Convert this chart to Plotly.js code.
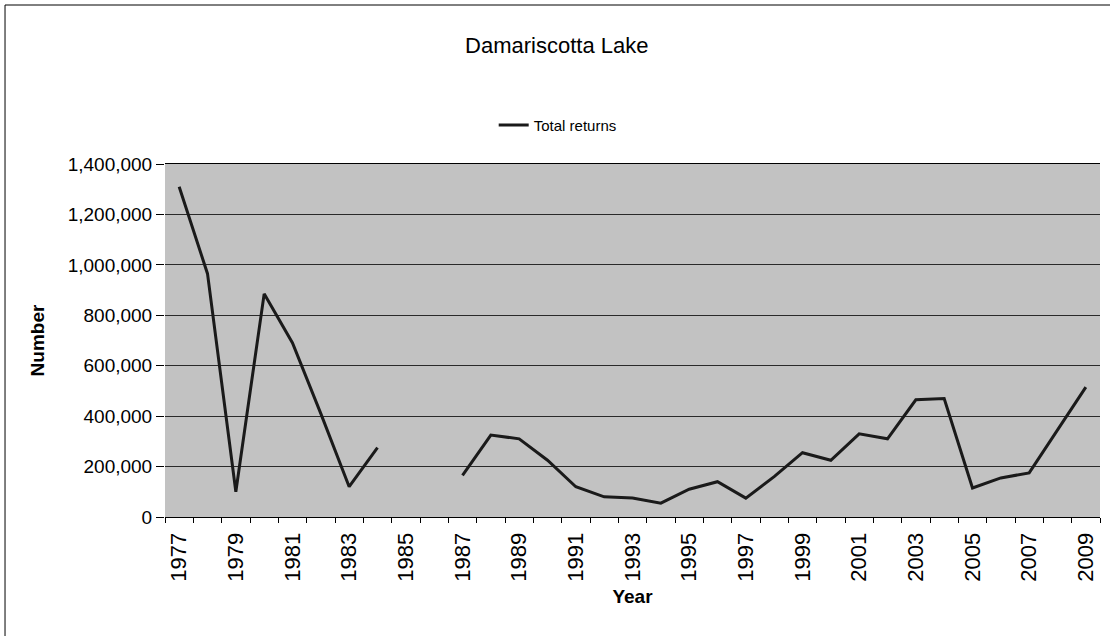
<!DOCTYPE html>
<html>
<head>
<meta charset="utf-8">
<script src="https://cdn.plot.ly/plotly-3.0.1.min.js"></script>
<style>html,body{margin:0;padding:0;background:#fff;}#chart{width:1110px;height:636px;}</style>
</head>
<body>
<div id="chart"></div>
<script>
const years = [1977,1978,1979,1980,1981,1982,1983,1984,1985,1986,1987,1988,1989,1990,1991,1992,1993,1994,1995,1996,1997,1998,1999,2000,2001,2002,2003,2004,2005,2006,2007,2008,2009];
const totalReturns = [1310000,965000,100000,885000,690000,410000,120000,275000,null,null,165000,325000,310000,225000,120000,80000,75000,55000,110000,140000,75000,160000,255000,225000,330000,310000,465000,470000,115000,155000,175000,345000,515000];
const tickYears = [1977,1979,1981,1983,1985,1987,1989,1991,1993,1995,1997,1999,2001,2003,2005,2007,2009];
const tickLabels = tickYears.map(String);
const yTicks = [0,200000,400000,600000,800000,1000000,1200000,1400000];
const yLabels = ['0','200,000','400,000','600,000','800,000','1,000,000','1,200,000','1,400,000'];

const FONT = 'Liberation Sans, Arial, sans-serif';

const trace = {
  x: years, y: totalReturns, type: 'scatter', mode: 'lines',
  name: 'Total returns', connectgaps: false,
  line: {color: '#1a1a1a', width: 3}
};

const layout = {
  width: 1110, height: 636,
  margin: {l: 165, r: 10, t: 164, b: 119},
  paper_bgcolor: '#ffffff',
  plot_bgcolor: '#c2c2c2',
  font: {family: FONT, color: '#000'},
  title: {text: 'Damariscotta Lake', font: {family: FONT, size: 22, color: '#000'},
          x: 0.419, xanchor: 'center', y: 0.929, yanchor: 'middle', xref: 'paper', yref: 'container'},
  showlegend: true,
  legend: {orientation: 'h', x: 0.42, xanchor: 'center', y: 1.11, yanchor: 'middle',
           font: {family: FONT, size: 15, color: '#000'}, bgcolor: 'rgba(0,0,0,0)'},
  xaxis: {
    range: [1976.5, 2009.5], tickmode: 'array', tickvals: tickYears, ticktext: tickLabels,
    tickangle: -90, tickfont: {family: FONT, size: 22, color: '#000'},
    ticks: '', showgrid: false, zeroline: false, ticklabelstandoff: 6,
    showline: true, linecolor: '#000', linewidth: 1, mirror: true,
    minor: {ticks: 'outside', tick0: 1976.5, dtick: 1, ticklen: 5, tickcolor: '#000', showgrid: false},
    title: {text: 'Year', font: {family: FONT, size: 19, color: '#000', weight: 'bold'}, standoff: 8}
  },
  yaxis: {
    range: [0, 1400000], tickmode: 'array', tickvals: yTicks, ticktext: yLabels,
    tickfont: {family: FONT, size: 19, color: '#000'},
    ticks: 'outside', ticklen: 8, tickcolor: '#000',
    showgrid: true, gridcolor: '#2a2a2a', gridwidth: 1, zeroline: false,
    showline: false,
    title: {text: 'Number', font: {family: FONT, size: 19, color: '#000', weight: 'bold'}, standoff: 18}
  },
  shapes: [
    {type: 'rect', xref: 'paper', yref: 'paper', x0: -0.1711, x1: 1.02, y0: -0.36, y1: 1.4504,
     line: {color: '#000', width: 1}, fillcolor: 'rgba(0,0,0,0)', layer: 'below'}
  ]
};

Plotly.newPlot('chart', [trace], layout, {displayModeBar: false, staticPlot: true});
</script>
</body>
</html>
